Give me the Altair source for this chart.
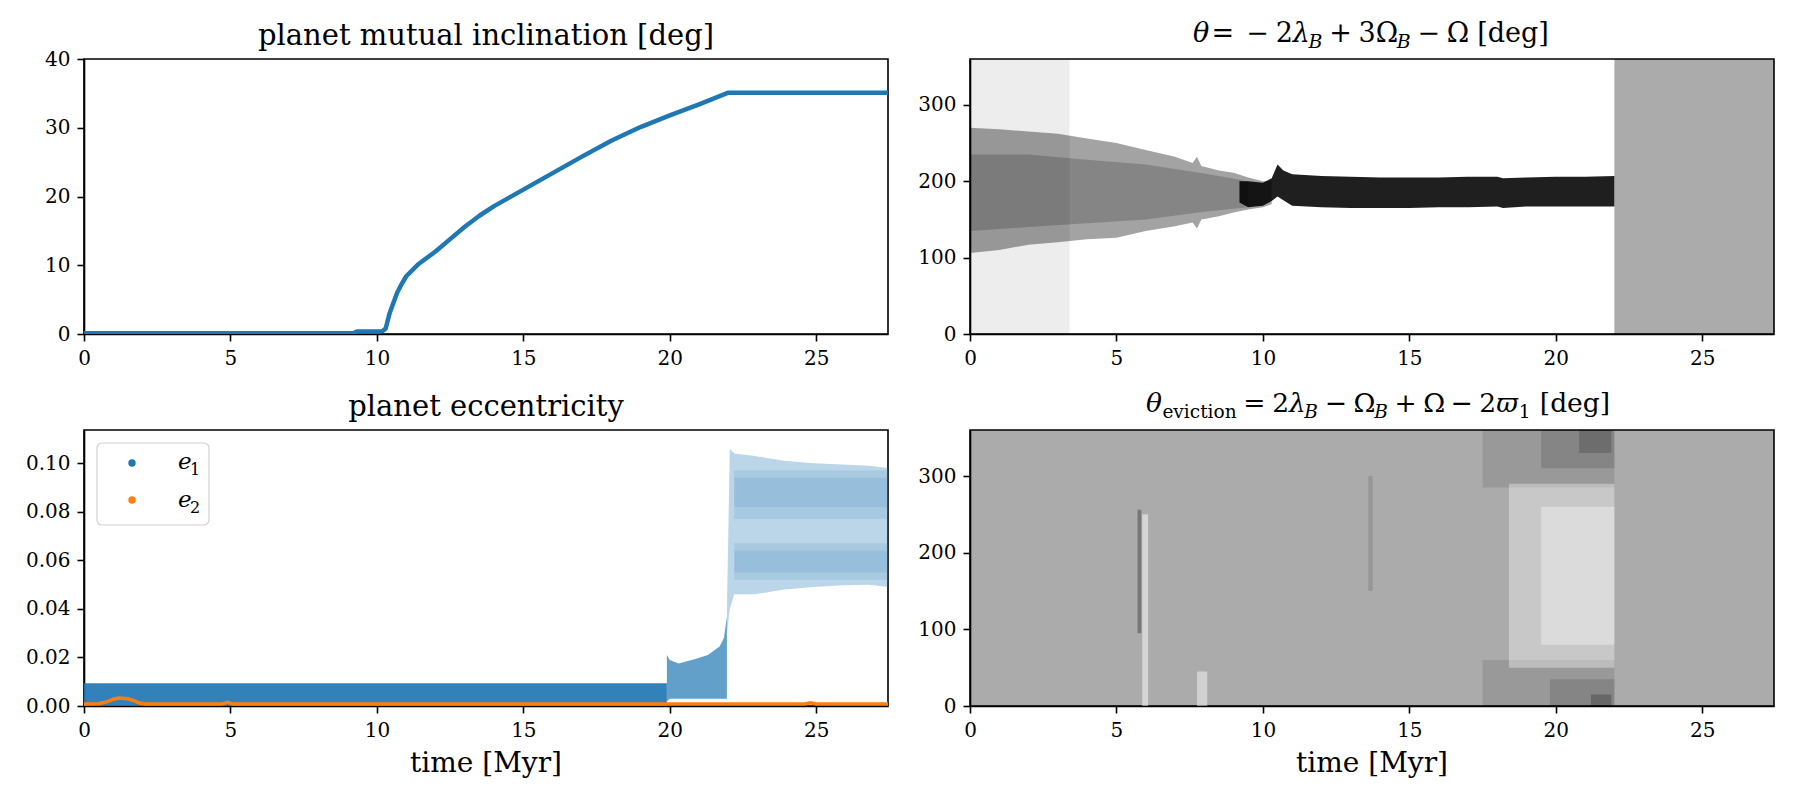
import altair as alt
import pandas as pd

FONT = "DejaVu Serif"
BLUE = "#1f77b4"
ORANGE = "#ff7f0e"
T_MAX = 27.45
W = 804
H_TOP = 275
H_BOT = 276
X_TICKS = [0, 5, 10, 15, 20, 25]

# ---------------- data (time in Myr) ----------------
# planet mutual inclination [deg]
inc_t = [0, 9.2, 9.3, 10.1, 10.2, 10.3, 10.44, 10.69, 10.85, 11.0, 11.4, 12, 12.5, 13, 13.5,
         14, 14.5, 15, 16, 17, 18, 19, 20, 21, 22, 27.45]
inc_deg = [0.1, 0.1, 0.35, 0.35, 0.45, 0.8, 3.1, 6.0, 7.3, 8.4, 10.1, 12.0, 13.8, 15.6, 17.2,
           18.6, 19.8, 21.0, 23.4, 25.8, 28.1, 30.1, 31.8, 33.4, 35.1, 35.1]

# resonant angle theta: envelope of the librating cloud
core_t = [0, 1, 2, 3, 4, 5, 6, 7, 7.6, 7.75, 7.9, 8.5, 9, 9.5, 10, 10.3]
core_hi = [270, 268, 265, 262, 256, 250, 241, 232, 224, 232, 220, 214, 211, 205, 200, 200]
core_lo = [106, 110, 117, 120, 124, 126, 135, 141, 146, 138, 150, 154, 159, 163, 166, 170]
inner_t = [0, 2, 4, 6, 8, 9.5]
inner_hi = [235, 235, 228, 222, 210, 200]
inner_lo = [135, 140, 145, 150, 160, 166]
lock_t = [9.2, 9.5, 10.0, 10.3, 10.5, 10.7, 11.0, 12, 13, 14, 15, 16, 17, 18, 18.2, 19, 20, 21, 22]
lock_hi = [200, 200, 198, 204, 222, 214, 209, 207, 206, 205, 205, 205, 206, 206, 204, 205, 206, 206, 207]
lock_lo = [172, 166, 168, 174, 180, 175, 168, 166, 165, 165, 165, 166, 166, 167, 165, 167, 167, 167, 167]
# circulating phases: t0, t1, lo, hi, opacity
theta_circ_t0 = [0.0, 22.0]
theta_circ_t1 = [3.4, T_MAX]
theta_circ_lo = [0, 0]
theta_circ_hi = [360, 360]
theta_circ_op = [0.07, 0.33]

# eviction angle: point density patches (t0, t1, lo, hi, shade, opacity)
ev_t0 = [0.0, 17.5, 19.5, 20.8, 17.5, 19.8, 21.2, 18.4, 19.5, 5.72, 5.88, 7.75, 13.6]
ev_t1 = [T_MAX, 22.0, 22.0, 21.9, 22.0, 22.0, 21.9, 22.0, 22.0, 5.85, 6.08, 8.1, 13.75]
ev_lo = [0, 285, 310, 330, 0, 0, 0, 50, 80, 95, 0, 0, 150]
ev_hi = [360, 360, 360, 360, 60, 35, 15, 290, 260, 256, 250, 45, 300]
ev_shade = ["black", "black", "black", "black", "black", "black", "black",
            "white", "white", "black", "white", "white", "black"]
ev_op = [0.33, 0.1, 0.13, 0.18, 0.1, 0.13, 0.22, 0.35, 0.35, 0.3, 0.5, 0.45, 0.12]

# eccentricity of planet 1: envelopes of the scatter
e1_low_t = [0, 19.9]
e1_low_hi = [0.0094, 0.0094]
e1_low_lo = [0.0, 0.0]
e1_mid_t = [19.9, 20.0, 20.3, 20.9, 21.3, 21.7, 21.85, 21.95]
e1_mid_hi = [0.021, 0.019, 0.0175, 0.0195, 0.021, 0.0245, 0.028, 0.037]
e1_mid_lo = [0.002, 0.003, 0.003, 0.003, 0.003, 0.003, 0.003, 0.003]
e1_high_t = [21.95, 22.05, 22.2, 22.9, 23.9, 24.9, 25.9, 26.8, 27.45]
e1_high_hi = [0.04, 0.106, 0.104, 0.103, 0.101, 0.100, 0.0995, 0.099, 0.098]
e1_high_lo = [0.03, 0.04, 0.046, 0.046, 0.048, 0.049, 0.0497, 0.05, 0.049]
e1_dense_t0 = [22.2, 22.2, 22.2, 22.2]
e1_dense_t1 = [T_MAX, T_MAX, T_MAX, T_MAX]
e1_dense_lo = [0.077, 0.082, 0.052, 0.055]
e1_dense_hi = [0.097, 0.094, 0.067, 0.064]
e1_dense_op = [0.12, 0.12, 0.12, 0.12]
# eccentricity of planet 2
e2_t = [0, 0.5, 0.8, 1.0, 1.2, 1.5, 1.7, 1.9, 2.1, 4.7, 4.9, 5.1, 24.6, 24.8, 25.0, 27.45]
e2_val = [0.0008, 0.0009, 0.0018, 0.0028, 0.0033, 0.003, 0.0022, 0.0012, 0.0008, 0.0008, 0.0015, 0.0008, 0.0008, 0.0013, 0.0008, 0.0008]

# ---------------- helpers ----------------
ONE = pd.DataFrame({"k": [0]})

# approximate advance widths (em) of the serif face, used to lay out formula titles
ADV = {" ": 0.318, "=": 0.838, "+": 0.838, "\u2212": 0.838, "[": 0.390, "]": 0.390,
       "d": 0.640, "e": 0.592, "g": 0.640, "i": 0.320, "v": 0.565, "c": 0.560,
       "t": 0.402, "o": 0.602, "n": 0.644, "B": 0.735, "\u03b8": 0.602,
       "\u03bb": 0.580, "\u03a9": 0.780, "\u03d6": 0.850}
for d in "0123456789":
    ADV[d] = 0.636


def text_token(text, x, y, size, italic=False, align="left"):
    return alt.Chart(ONE).mark_text(
        text=text, font=FONT, fontSize=size,
        fontStyle="italic" if italic else "normal",
        align=align, baseline="alphabetic", color="black",
    ).encode(x=alt.value(x), y=alt.value(y))


def math_title(tokens, cx, base_y, size):
    sub = 0.7 * size
    items = []
    x = 0.0
    for text, role, gap in tokens:
        x += gap * size
        is_sub = role.startswith("s")
        s = sub if is_sub else size
        dy = 0.22 * size if is_sub else 0.0
        items.append((text, x, dy, s, role.endswith("i")))
        x += sum(ADV.get(c, 0.6) for c in text) * s
    x0 = cx - x / 2
    return [text_token(t, x0 + px, base_y + dy, s, it) for (t, px, dy, s, it) in items]


def scales(ydom):
    xs = alt.Scale(domain=[0, T_MAX], nice=False, zero=False)
    ys = alt.Scale(domain=ydom, nice=False, zero=False)
    return xs, ys


def axes(yvals, yfmt):
    xa = alt.Axis(values=X_TICKS, format="d", title=None)
    ya = alt.Axis(values=yvals, format=yfmt, title=None)
    return xa, ya


def band(t, lo, hi, color, opacity, xs, ys, xa, ya):
    df = pd.DataFrame({"t": t, "lo": lo, "hi": hi})
    return alt.Chart(df).mark_area(color=color, opacity=opacity, clip=True).encode(
        x=alt.X("t:Q", scale=xs, axis=xa),
        y=alt.Y("lo:Q", scale=ys, axis=ya),
        y2="hi:Q",
    )


def patches(t0, t1, lo, hi, shade, op, xs, ys, xa, ya):
    df = pd.DataFrame({"t0": t0, "t1": t1, "lo": lo, "hi": hi, "shade": shade, "op": op})
    return alt.Chart(df).mark_rect(clip=True).encode(
        x=alt.X("t0:Q", scale=xs, axis=xa), x2="t1:Q",
        y=alt.Y("lo:Q", scale=ys, axis=ya), y2="hi:Q",
        color=alt.Color("shade:N", scale=None),
        opacity=alt.Opacity("op:Q", scale=None),
    )


# ---------------- top left: mutual inclination ----------------
xs, ys = scales([0, 40])
xa, ya = axes([0, 10, 20, 30, 40], "d")
inc_df = pd.DataFrame({"t": inc_t, "v": inc_deg})
tl_line = alt.Chart(inc_df).mark_line(
    color=BLUE, strokeWidth=4.5, clip=True, strokeJoin="round"
).encode(x=alt.X("t:Q", scale=xs, axis=xa), y=alt.Y("v:Q", scale=ys, axis=ya))
TL = alt.layer(
    tl_line,
    text_token("planet mutual inclination [deg]", W / 2, -14, 29, align="center"),
).properties(width=W, height=H_TOP)

# ---------------- top right: theta ----------------
xs, ys = scales([0, 360])
xa, ya = axes([0, 100, 200, 300], "d")
t1_tokens = [("\u03b8", "i", 0), ("=", "r", 0.08), ("\u2212", "r", 0.45), ("2", "r", 0.25),
             ("\u03bb", "i", 0), ("B", "si", 0), ("+", "r", 0.25), ("3", "r", 0.25),
             ("\u03a9", "r", 0), ("B", "si", 0), ("\u2212", "r", 0.25), ("\u03a9", "r", 0.25),
             ("[deg]", "r", 0.35)]
TR = alt.layer(
    patches(theta_circ_t0, theta_circ_t1, theta_circ_lo, theta_circ_hi,
            ["black", "black"], theta_circ_op, xs, ys, xa, ya),
    band(core_t, core_lo, core_hi, "black", 0.36, xs, ys, xa, ya),
    band(inner_t, inner_lo, inner_hi, "black", 0.18, xs, ys, xa, ya),
    band(lock_t, lock_lo, lock_hi, "black", 0.88, xs, ys, xa, ya),
    *math_title(t1_tokens, 401, -17, 27),
).properties(width=W, height=H_TOP)

# ---------------- bottom left: eccentricities ----------------
xs, ys = scales([0, 0.1137])
xa, ya = axes([0, 0.02, 0.04, 0.06, 0.08, 0.10], ".2f")
e2_df = pd.DataFrame({"t": e2_t, "v": e2_val})
e2_line = alt.Chart(e2_df).mark_line(color=ORANGE, strokeWidth=3.5, clip=True).encode(
    x=alt.X("t:Q", scale=xs, axis=xa), y=alt.Y("v:Q", scale=ys, axis=ya))
legend_box = alt.Chart(ONE).mark_rect(
    fill="white", stroke="#cccccc", strokeWidth=1.2, cornerRadius=5, opacity=0.9
).encode(x=alt.value(13), x2=alt.value(125), y=alt.value(13), y2=alt.value(95))


def legend_dot(color, y):
    return alt.Chart(ONE).mark_circle(color=color, size=55, opacity=1).encode(
        x=alt.value(48), y=alt.value(y))


BL = alt.layer(
    band(e1_low_t, e1_low_lo, e1_low_hi, BLUE, 0.92, xs, ys, xa, ya),
    band(e1_mid_t, e1_mid_lo, e1_mid_hi, BLUE, 0.7, xs, ys, xa, ya),
    band(e1_high_t, e1_high_lo, e1_high_hi, BLUE, 0.3, xs, ys, xa, ya),
    patches(e1_dense_t0, e1_dense_t1, e1_dense_lo, e1_dense_hi, [BLUE] * 4, e1_dense_op,
            xs, ys, xa, ya),
    e2_line,
    legend_box,
    legend_dot(BLUE, 33), legend_dot(ORANGE, 70),
    text_token("e", 94, 39, 23, italic=True), text_token("1", 106, 45, 16),
    text_token("e", 94, 77, 23, italic=True), text_token("2", 106, 83, 16),
    text_token("planet eccentricity", W / 2, -14, 29, align="center"),
    text_token("time [Myr]", W / 2, H_BOT + 66, 28, align="center"),
).properties(width=W, height=H_BOT)

# ---------------- bottom right: eviction angle ----------------
xs, ys = scales([0, 360])
xa, ya = axes([0, 100, 200, 300], "d")
t2_tokens = [("\u03b8", "i", 0), ("eviction", "sr", 0.02), ("=", "r", 0.25), ("2", "r", 0.25),
             ("\u03bb", "i", 0), ("B", "si", 0), ("\u2212", "r", 0.25), ("\u03a9", "r", 0.25),
             ("B", "si", 0), ("+", "r", 0.25), ("\u03a9", "r", 0.25), ("\u2212", "r", 0.25),
             ("2", "r", 0.25), ("\u03d6", "i", 0), ("1", "sr", 0), ("[deg]", "r", 0.35)]
BR = alt.layer(
    patches(ev_t0, ev_t1, ev_lo, ev_hi, ev_shade, ev_op, xs, ys, xa, ya),
    *math_title(t2_tokens, 408, -18, 26.5),
    text_token("time [Myr]", W / 2, H_BOT + 66, 28, align="center"),
).properties(width=W, height=H_BOT)

chart = alt.concat(
    TL, TR, BL, BR,
    columns=2,
    spacing={"row": 96, "column": 82},
    bounds="flush",
).properties(
    padding={"left": 24, "top": 19, "right": 5, "bottom": 5},
    background="white",
).configure_view(
    stroke="black", strokeWidth=1.6,
).configure_axis(
    labelFont=FONT, labelFontSize=20, labelColor="black",
    tickColor="black", tickWidth=1.6, tickSize=7,
    domainColor="black", domainWidth=1.6,
    labelPadding=7, grid=False, labelFlush=False, labelOverlap=False,
)

chart.save("out.html", embed_options={"renderer": "svg", "actions": False})
